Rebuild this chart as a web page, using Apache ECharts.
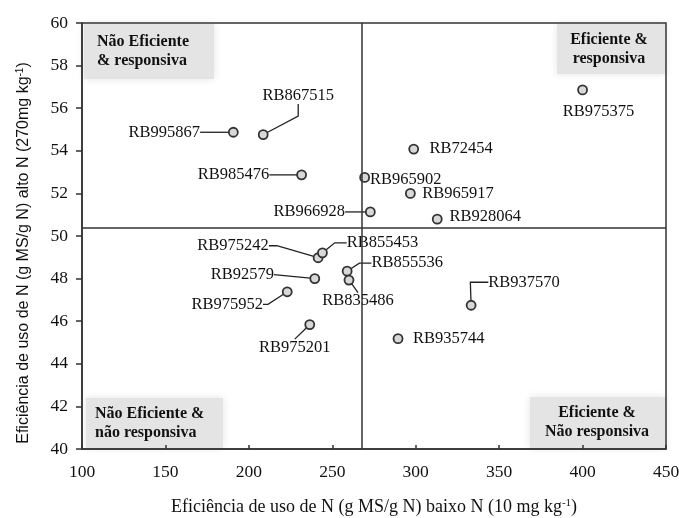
<!DOCTYPE html>
<html><head><meta charset="utf-8">
<script src="https://cdn.jsdelivr.net/npm/echarts@6/dist/echarts.min.js"></script>
<style>html,body{margin:0;padding:0;background:#fff}#c{width:679px;height:518px}</style>
</head><body><div id="c"></div>
<script>
// ---- data ----
const genotypes = ['RB995867','RB867515','RB985476','RB975375','RB72454','RB965902','RB965917','RB966928','RB928064',
  'RB975242','RB855453','RB92579','RB975952','RB975201','RB855536','RB835486','RB937570','RB935744'];
const lowN  = [190.7, 208.6, 231.6, 400.0, 298.8, 269.4, 296.8, 272.8, 312.9,
  241.5, 244.1, 239.5, 223.0, 236.5, 258.9, 260.0, 333.2, 289.4];
const highN = [54.87, 54.76, 52.87, 56.86, 54.08, 52.75, 52.00, 51.13, 50.79,
  48.98, 49.21, 48.00, 47.38, 45.84, 48.35, 47.93, 46.75, 45.18];
const xTickValues = [100,150,200,250,300,350,400,450];
const yTickValues = [40,42,44,46,48,50,52,54,56,58,60];
const lowNCut = 267.5;
const highNCut = 50.4;
const quadrantNames = ['Não Eficiente\n& responsiva','Eficiente &\nresponsiva','Não Eficiente &\nnão responsiva','Eficiente &\nNão responsiva'];
const xTitle = 'Eficiência de uso de N (g MS/g N) baixo N (10 mg kg{sup|-1})';
const yTitle = 'Eficiência de uso de N (g MS/g N) alto N (270mg kg{sup|-1})';

// ---- label placement (pixel offset from point, show leader, leader elbow) ----
const labelOffsets = [
  [-69,0,1,0],[35,-39,1,12],[-68,0,1,0],[16,22,0,0],[47.5,0,0,0],[41,2,0,0],[47.6,0,0,0],[-61,0,1,0],[48,-3,0,0],
  [-85,-12,1,8],[60,-10,1,12],[-72.5,-4,1,0],[-60,12.6,1,5],[-15,23,1,0],[60,-8,1,12],[9,21,1,0],[53,-23,1,18],[50.7,0,0,0]
];

const SERIF = '"Liberation Serif","Times New Roman",serif';
const SANS = '"Liberation Sans",Arial,sans-serif';

const chart = echarts.init(document.getElementById('c'));
const grid = {left: 82, right: 13, top: 23, bottom: 69};

function quadGroup(x, y, w, h, text, align, tx) {
  return {
    type: 'group', x: x, y: y,
    children: [
      {type: 'rect', z: -5, shape: {x: 0, y: 0, width: w, height: h},
       style: {fill: '#e4e4e4', shadowBlur: 8, shadowColor: '#e4e4e4'}},
      {type: 'text', z: 5, x: tx, y: h / 2,
       style: {text: text, fontFamily: SERIF, fontWeight: 'bold', fontSize: 16, fill: '#111',
               align: align, verticalAlign: 'middle', lineHeight: 19}}
    ]
  };
}

chart.setOption({
  animation: false,
  grid: Object.assign({show: true, borderColor: '#333', borderWidth: 1.5, backgroundColor: 'transparent',
    containLabel: false, outerBoundsMode: 'none'}, grid),
  graphic: [
    quadGroup(84, 24, 130, 55, quadrantNames[0], 'left', 13),
    quadGroup(557, 24, 108, 50, quadrantNames[1], 'center', 52),
    quadGroup(86, 398, 137, 50, quadrantNames[2], 'left', 9),
    quadGroup(530, 397, 135, 51, quadrantNames[3], 'center', 67)
  ],
  xAxis: {
    type: 'value', min: xTickValues[0], max: xTickValues[xTickValues.length - 1],
    interval: xTickValues[1] - xTickValues[0],
    name: xTitle, nameLocation: 'middle', nameGap: 49,
    nameTextStyle: {fontFamily: SERIF, fontSize: 18, color: '#111',
      rich: {sup: {fontFamily: SERIF, fontSize: 11, verticalAlign: 'top', padding: [0, 0, 8, 0]}}},
    axisLine: {lineStyle: {color: '#333', width: 1.5}},
    axisTick: {inside: true, length: 4, lineStyle: {color: '#333', width: 1.5}},
    axisLabel: {fontFamily: SERIF, fontSize: 17.5, color: '#111', margin: 14},
    splitLine: {show: false}
  },
  yAxis: {
    type: 'value', min: yTickValues[0], max: yTickValues[yTickValues.length - 1],
    interval: yTickValues[1] - yTickValues[0],
    name: yTitle, nameLocation: 'middle', nameGap: 49, nameRotate: 90,
    nameTextStyle: {fontFamily: SANS, fontSize: 16, color: '#111', padding: [0, 34, 0, 0],
      rich: {sup: {fontFamily: SANS, fontSize: 10, verticalAlign: 'top', padding: [0, 0, 8, 0]}}},
    axisLine: {lineStyle: {color: '#333', width: 1.5}},
    axisTick: {inside: false, length: 6, lineStyle: {color: '#333', width: 1.5}},
    axisLabel: {fontFamily: SERIF, fontSize: 17.5, color: '#111', margin: 14},
    splitLine: {show: false}
  },
  series: [{
    type: 'scatter',
    symbol: 'circle', symbolSize: 9,
    data: genotypes.map((g, i) => ({
      name: g, value: [lowN[i], highN[i]],
      labelLine: {show: !!labelOffsets[i][2], length2: labelOffsets[i][3]}
    })),
    itemStyle: {color: '#d8d8d8', borderColor: '#333', borderWidth: 1.8, opacity: 1},
    label: {show: true, position: 'inside', formatter: '{b}', fontFamily: SERIF, fontSize: 16.5, color: '#111'},
    labelLine: {show: false, lineStyle: {color: '#222', width: 1.3}},
    labelLayout: function (p) {
      const o = labelOffsets[p.dataIndex];
      return {x: p.rect.x + p.rect.width / 2 + o[0], y: p.rect.y + p.rect.height / 2 + o[1],
              align: 'center', verticalAlign: 'middle'};
    },
    markLine: {
      silent: true, symbol: 'none', label: {show: false},
      lineStyle: {color: '#333', width: 1.5, type: 'solid'},
      data: [{xAxis: lowNCut}, {yAxis: highNCut}]
    }
  }]
});
</script></body></html>
